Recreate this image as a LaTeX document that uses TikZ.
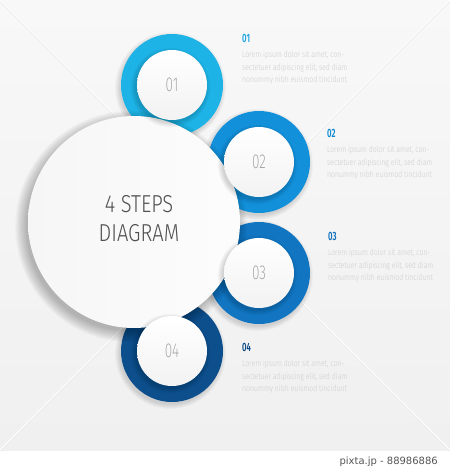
\documentclass[tikz,border=0pt]{standalone}
\usepackage{fontspec}
\setmainfont{Fira Sans}
\newfontfamily\bigf{Fira Sans Light}[FakeStretch=0.82]
\newfontfamily\numf{Fira Sans ExtraLight}[FakeStretch=0.68]
\newfontfamily\lorf{Fira Sans Light}[FakeStretch=0.8]
\newfontfamily\ttlf{Fira Sans SemiBold}[FakeStretch=0.65]
\newfontfamily\footf{DejaVu Sans}
\usetikzlibrary{calc}
\definecolor{bgtop}{HTML}{F8F8F8}
\definecolor{bgbot}{HTML}{F0F0F0}
\definecolor{ringA}{HTML}{1DB3E6}
\definecolor{ringB}{HTML}{1390DA}
\definecolor{ringC}{HTML}{1175C2}
\definecolor{ringD}{HTML}{0D4E8C}
\definecolor{ttlA}{HTML}{1AA5E0}
\definecolor{ttlB}{HTML}{0C88D2}
\definecolor{ttlC}{HTML}{0B6EBA}
\definecolor{ttlD}{HTML}{0B4A86}
\definecolor{lorem}{HTML}{CDCDCD}
\definecolor{bigtext}{HTML}{505050}
\definecolor{numtext}{HTML}{999999}
\definecolor{footc}{HTML}{555555}
\definecolor{diagline}{HTML}{E6E6E6}
\newcommand\softshadow[4]{% center, radius, steps, spread
  \foreach \k in {0,...,#3}{%
    \fill[black,opacity=0.025] ($(#1)+(-1.5,2.5)$) circle[radius=#2+\k*#4];}}
\newcommand\stepblock[5]{% name, x, y(title baseline), colour, number
  \node[ttl,text=#4,anchor=base west] (#1t) at (#2,#3) {#5};
  \node[lor,anchor=base west] (#1a) at (#2,#3+15.5) {Lorem ipsum dolor sit amet, con-};
  \node[lor,anchor=base west] (#1b) at (#2,#3+28) {sectetuer adipiscing elit, sed diam};
  \node[lor,anchor=base west] (#1c) at (#2,#3+40.5) {nonummy nibh euismod tincidunt};}
\begin{document}
\begin{tikzpicture}[x=1pt,y=-1pt,
  ttl/.style={inner sep=0pt,font=\ttlf\fontsize{12}{12}\selectfont},
  lor/.style={inner sep=0pt,text=lorem,font=\lorf\fontsize{8.6}{8.6}\selectfont},
  num/.style={inner sep=0pt,text=numtext,font=\numf\fontsize{20}{20}\selectfont},
  big/.style={inner sep=0pt,text=bigtext,font=\bigf\fontsize{24.5}{24.5}\selectfont},
  inner/.style={top color=white, bottom color=black!5},
]
\useasboundingbox (0,0) rectangle (450,469);
\fill[white] (0,0) rectangle (450,469);
\shade[top color=bgtop, bottom color=bgbot] (0,0) rectangle (450,450);
% background diagonals
\begin{scope}
\clip (0,0) rectangle (450,450);
\draw[diagline,line width=0.5pt] (0,1.2) -- (450,451.2);
\draw[white,line width=0.8pt] (0,0) -- (450,450);
\draw[diagline,line width=0.5pt] (0,451.2) -- (450,1.2);
\draw[white,line width=0.8pt] (0,450) -- (450,0);
\end{scope}
% centres
\coordinate (c1) at (172,85);
\coordinate (c2) at (259,162);
\coordinate (c3) at (259,273);
\coordinate (c4) at (172,351);
\coordinate (cb) at (134,222);
% rings
\softshadow{c1}{51pt}{5}{0.9pt}
\softshadow{c2}{51pt}{5}{0.9pt}
\softshadow{c3}{51pt}{5}{0.9pt}
\softshadow{c4}{51pt}{5}{0.9pt}
\fill[ringA] (c1) circle[radius=51pt];
\fill[ringB] (c2) circle[radius=51pt];
\fill[ringC] (c3) circle[radius=51pt];
\fill[ringD] (c4) circle[radius=51pt];
% big circle
\foreach \k in {0,...,9}{\fill[black,opacity=0.028] ($(cb)+(-3,4.5)$) circle[radius=105pt+\k*1.2pt];}
\shade[left color=black!3.5, right color=black!1] (cb) circle[radius=106pt];
% inner circles
\foreach \c in {c1,c2,c3,c4}{%
  \softshadow{\c}{35pt}{6}{0.8pt}
  \shade[inner] (\c) circle[radius=35pt];}
\node[num] (n1) at (c1) {01};
\node[num] (n2) at (c2) {02};
\node[num] (n3) at (c3) {03};
\node[num] (n4) at (c4) {04};
% centre title
\node[big,anchor=base] (title1) at (139,212) {4 STEPS};
\node[big,anchor=base] (title2) at (139,241) {DIAGRAM};
% text blocks
\stepblock{s1}{242}{42}{ttlA}{01}
\stepblock{s2}{327}{137}{ttlB}{02}
\stepblock{s3}{328}{240}{ttlC}{03}
\stepblock{s4}{242}{351}{ttlD}{04}
% footer
\node[inner sep=0pt,anchor=base east,text=footc,font=\footf\fontsize{10}{10}\selectfont] (foot) at (438,464) {pixta.jp - 88986886};
\end{tikzpicture}
\end{document}
